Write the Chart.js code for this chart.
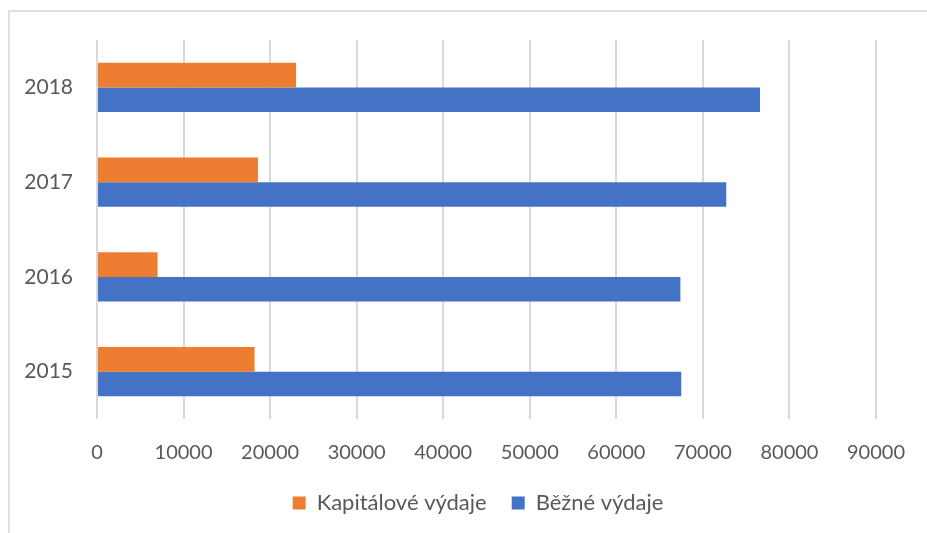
<!DOCTYPE html>
<html>
<head>
<meta charset="utf-8">
<script src="https://cdn.jsdelivr.net/npm/chart.js@4"></script>
<style>
  html, body { margin: 0; padding: 0; background: #fff; }
  #wrap { position: relative; width: 927px; height: 533px; overflow: hidden; }
  #frame { position: absolute; left: 8px; top: 10px; right: -10px; bottom: -10px;
           border-top: 2px solid #e0e0e0; border-left: 2px solid #e0e0e0; pointer-events: none; }
  canvas { position: absolute; left: 0; top: 0; }
</style>
</head>
<body>
<div id="wrap">
  <canvas id="c" width="927" height="533"></canvas>
  <div id="frame"></div>
</div>
<script>
// Categories (top to bottom as drawn)
const categories = ['2018', '2017', '2016', '2015'];
// Series values
const kapitaloveVydaje = [23000, 18600, 7000, 18200];
const bezneVydaje = [76600, 72700, 67400, 67500];
const seriesNames = ['Kapitálové výdaje', 'Běžné výdaje'];
// X-axis tick values
const xTickValues = [0, 10000, 20000, 30000, 40000, 50000, 60000, 70000, 80000, 90000];

const textColor = '#595959';
const fontFamily = 'Lato, "Open Sans", sans-serif';

// shift the legend row so it is centred like the original
const legendShift = {
  id: 'legendShift',
  afterLayout(chart) {
    if (chart.legend) { chart.legend.left += 39; chart.legend.right += 39; }
  }
};

new Chart(document.getElementById('c'), {
  type: 'bar',
  data: {
    labels: categories,
    datasets: [
      { label: seriesNames[0], data: kapitaloveVydaje, backgroundColor: '#ED7D31', borderWidth: 0,
        categoryPercentage: 0.52, barPercentage: 1.0 },
      { label: seriesNames[1], data: bezneVydaje, backgroundColor: '#4472C4', borderWidth: 0,
        categoryPercentage: 0.52, barPercentage: 1.0 }
    ]
  },
  options: {
    indexAxis: 'y',
    responsive: false,
    animation: false,
    devicePixelRatio: 1,
    layout: { padding: { left: 0, top: 40, right: 49, bottom: 9 } },
    scales: {
      x: {
        min: 0, max: 90000,
        afterBuildTicks: (scale) => { scale.ticks = xTickValues.map(v => ({ value: v })); },
        afterFit: (scale) => { scale.height = 48; },
        grid: { display: true, color: '#d9d9d9', lineWidth: 2, drawTicks: false },
        border: { display: false },
        ticks: { color: textColor, font: { family: fontFamily, size: 20 }, padding: 22,
                 callback: (v) => String(v), maxRotation: 0, autoSkip: false }
      },
      y: {
        afterFit: (scale) => { scale.width = 97; },
        grid: { display: false, drawTicks: false },
        border: { display: false },
        ticks: { color: textColor, font: { family: fontFamily, size: 21 }, padding: 24 }
      }
    },
    plugins: {
      legend: {
        position: 'bottom',
        labels: { color: textColor, font: { family: fontFamily, size: 22 },
                  boxWidth: 13, boxHeight: 13, padding: 25 }
      },
      tooltip: { enabled: false }
    }
  },
  plugins: [legendShift]
});
</script>
</body>
</html>
